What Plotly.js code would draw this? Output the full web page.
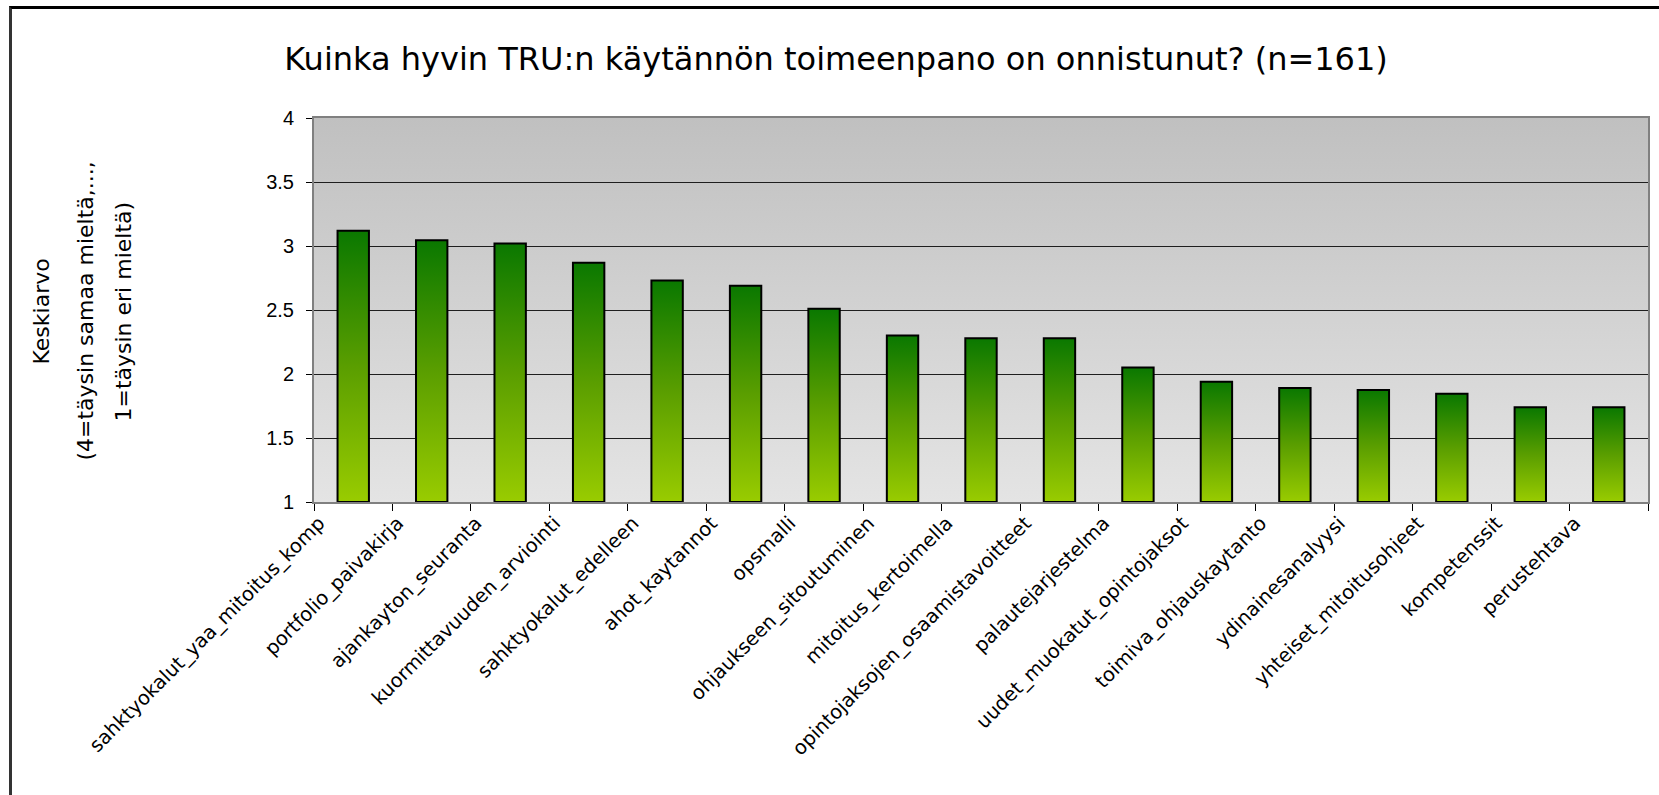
<!DOCTYPE html>
<html>
<head>
<meta charset="utf-8">
<script src="https://cdn.plot.ly/plotly-3.0.1.min.js"></script>
<style>
  html, body { margin: 0; padding: 0; background: #fff; overflow: hidden; }
  #chart { width: 1659px; height: 795px; position: relative; }
  #frame { position: absolute; left: 9px; top: 6px; width: 3000px; height: 3000px;
           border-left: 3px solid #333; border-top: 3px solid #000; pointer-events: none; z-index: 10; }
</style>
</head>
<body>
<div id="chart"></div>
<div id="frame"></div>
<script>
const categories = [
  "sahktyokalut_yaa_mitoitus_komp",
  "portfolio_paivakirja",
  "ajankayton_seuranta",
  "kuormittavuuden_arviointi",
  "sahktyokalut_edelleen",
  "ahot_kaytannot",
  "opsmalli",
  "ohjaukseen_sitoutuminen",
  "mitoitus_kertoimella",
  "opintojaksojen_osaamistavoitteet",
  "palautejarjestelma",
  "uudet_muokatut_opintojaksot",
  "toimiva_ohjauskaytanto",
  "ydinainesanalyysi",
  "yhteiset_mitoitusohjeet",
  "kompetenssit",
  "perustehtava"
];
const means = [3.12, 3.045, 3.02, 2.87, 2.73, 2.69, 2.51, 2.30, 2.28, 2.28, 2.05, 1.94, 1.89, 1.875, 1.845, 1.74, 1.74];
const axisFloor = 1;
const yTickValues = [1, 1.5, 2, 2.5, 3, 3.5, 4];
const yTickLabels = ["1", "1.5", "2", "2.5", "3", "3.5", "4"];
const chartTitle = "Kuinka hyvin TRU:n käytännön toimeenpano on onnistunut? (n=161)";
const yTitleLines = ["Keskiarvo", "(4=täysin samaa mieltä,...,", "1=täysin eri mieltä)"];

const L = 314, R = 11, T = 118, B = 293, W = 1659, H = 795;
const plotW = W - L - R;
function paperX(px) { return (px - L) / plotW; }

const trace = {
  type: "bar",
  x: categories,
  y: means.map(v => v - axisFloor),
  base: axisFloor,
  marker: { color: "#4f9a00", line: { color: "#000", width: 2 } },
  hoverinfo: "x"
};

const yTitleX = [42, 86, 124];
const annotations = yTitleLines.map((t, i) => ({
  text: t, xref: "paper", yref: "paper", x: paperX(yTitleX[i]), y: 0.496,
  xanchor: "center", yanchor: "middle", textangle: -90, showarrow: false,
  font: { family: "DejaVu Sans", size: 22, color: "#000" }
}));

const layout = {
  width: W, height: H,
  margin: { l: L, r: R, t: T, b: B, pad: 0 },
  paper_bgcolor: "#ffffff",
  plot_bgcolor: "#d4d4d4",
  showlegend: false,
  bargap: 0.6,
  title: {
    text: chartTitle, xref: "container", yref: "container",
    x: 836 / W, y: 1 - 59 / H, xanchor: "center", yanchor: "middle",
    font: { family: "DejaVu Sans", size: 32, color: "#000" }
  },
  xaxis: {
    type: "category",
    tickangle: -45,
    ticks: "outside", ticklen: 7, tickcolor: "#000", tickwidth: 1,
    tickson: "boundaries",
    ticklabelshift: -34,
    showline: true, linecolor: "#808080", linewidth: 2, mirror: true,
    showgrid: false,
    tickfont: { family: "DejaVu Sans", size: 19.5, color: "#000" },
    automargin: false
  },
  yaxis: {
    range: [1, 4],
    tickmode: "array",
    tickvals: yTickValues,
    ticktext: yTickLabels,
    ticks: "outside", ticklen: 6, tickcolor: "#000", tickwidth: 1,
    showline: true, linecolor: "#808080", linewidth: 2, mirror: true,
    showgrid: true, gridcolor: "#1e1e1e", gridwidth: 1,
    zeroline: false,
    ticklabelstandoff: 8,
    tickfont: { family: "Liberation Sans, Arial, sans-serif", size: 20, color: "#000" },
    automargin: false
  },
  annotations: annotations
};

const gd = document.getElementById("chart");
Plotly.newPlot(gd, [trace], layout, { displayModeBar: false, staticPlot: true }).then(() => {
  const svg = gd.querySelector("svg.main-svg");
  const NS = "http://www.w3.org/2000/svg";
  const defs = document.createElementNS(NS, "defs");
  function grad(id, stops) {
    const g = document.createElementNS(NS, "linearGradient");
    g.setAttribute("id", id);
    g.setAttribute("x1", "0"); g.setAttribute("y1", "0");
    g.setAttribute("x2", "0"); g.setAttribute("y2", "1");
    stops.forEach(([o, c]) => {
      const s = document.createElementNS(NS, "stop");
      s.setAttribute("offset", o); s.setAttribute("stop-color", c);
      g.appendChild(s);
    });
    defs.appendChild(g);
  }
  grad("barGrad", [["0", "#0a7800"], ["0.5", "#5a9e00"], ["1", "#99cc00"]]);
  grad("bgGrad", [["0", "#c0c0c0"], ["1", "#e4e4e4"]]);
  svg.insertBefore(defs, svg.firstChild);
  gd.querySelectorAll(".barlayer .point path").forEach(p => { p.style.fill = "url(#barGrad)"; });
  const bg = gd.querySelector(".bglayer rect.bg") || gd.querySelector("rect.bg");
  if (bg) bg.style.fill = "url(#bgGrad)";
});
</script>
</body>
</html>
